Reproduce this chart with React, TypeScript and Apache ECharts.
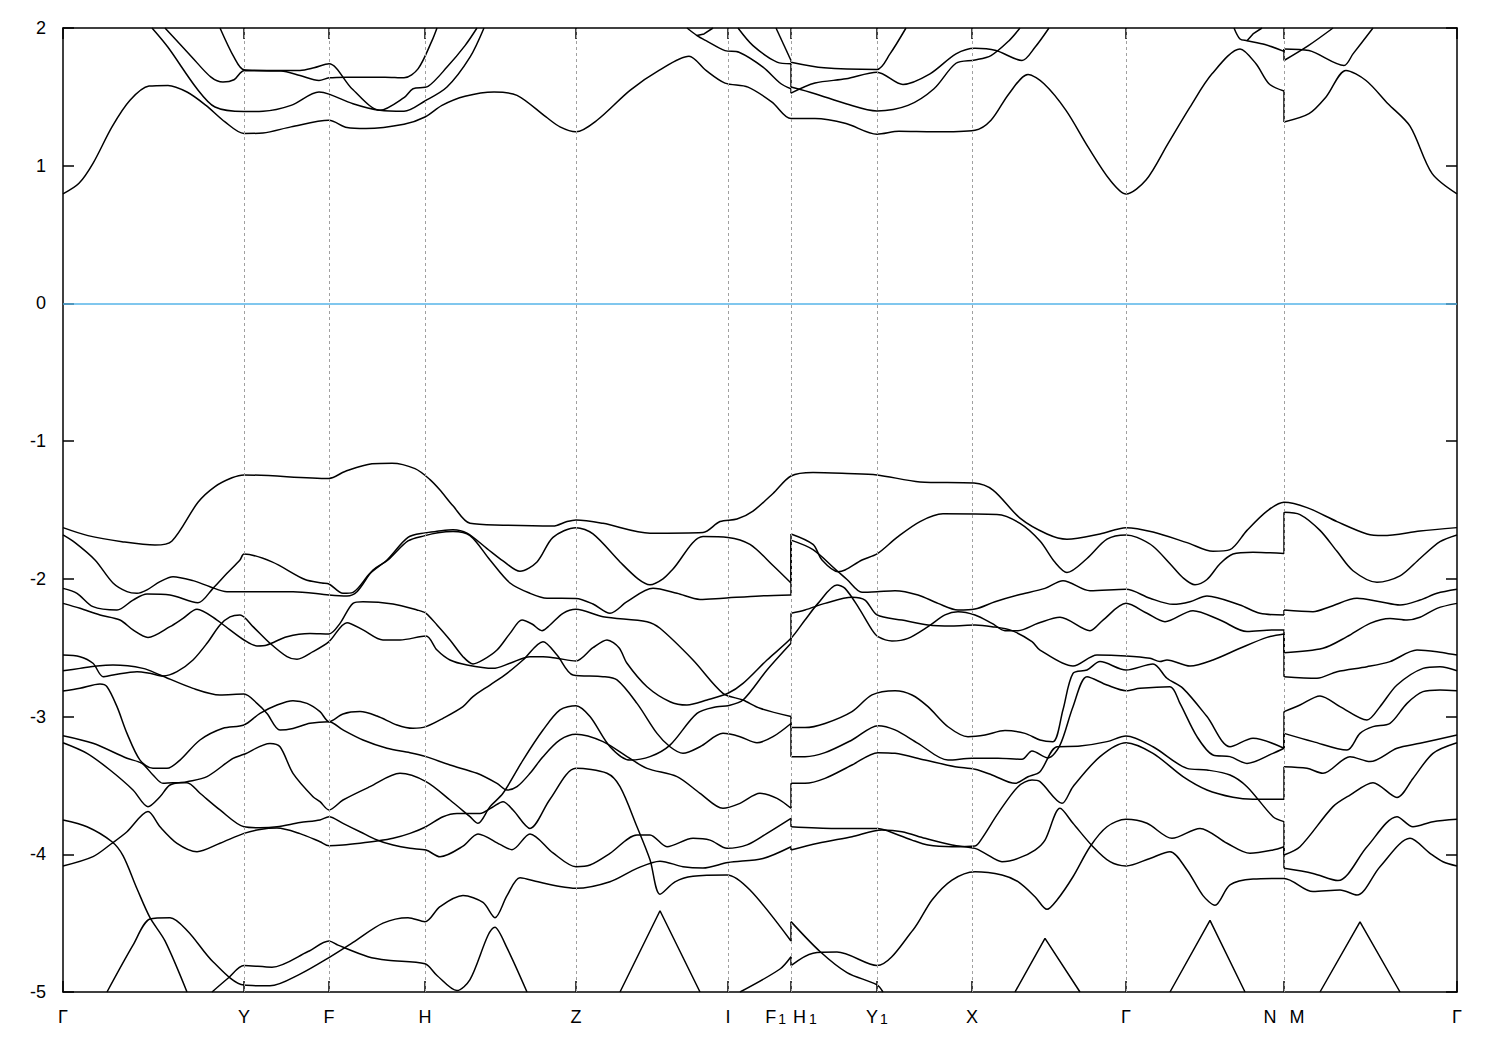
import React, { useEffect, useRef } from "react";
import * as echarts from "echarts";

type P = [number, number];

// k-path positions (arbitrary path-length units) of the high-symmetry points
const kPoints = [0, 181, 266, 362, 513, 665, 728, 814, 909, 1063, 1221, 1394];
const kNames = ["Γ", "Y", "F", "H", "Z", "I", "F₁H₁", "Y₁", "X", "Γ", "N M", "Γ"];
const kGrid = [181, 266, 362, 513, 665, 728, 814, 909, 1063, 1221];

// ---------------- valence bands (eV) ----------------
const b1: P[] = [[0,-1.628],[25,-1.686],[59,-1.73],[92,-1.755],[109,-1.725],[135,-1.444],[152,-1.33],[169,-1.266],[181,-1.245],[266,-1.271],[282,-1.22],[309,-1.164],[329,-1.16],[352,-1.2],[367,-1.279],[377,-1.355],[390,-1.47],[407,-1.597],[440,-1.61],[490,-1.617],[504,-1.584],[513,-1.572],[540,-1.597],[587,-1.668],[640,-1.663],[657,-1.584],[674,-1.566],[690,-1.508],[710,-1.38],[728,-1.253],[750,-1.228],[784,-1.235],[814,-1.245],[857,-1.296],[911,-1.304],[930,-1.355],[957,-1.559],[984,-1.674],[1004,-1.712],[1037,-1.674],[1063,-1.628],[1090,-1.66],[1124,-1.737],[1150,-1.8],[1167,-1.788],[1184,-1.648],[1204,-1.508],[1221,-1.444],[1244,-1.483],[1274,-1.584],[1304,-1.674],[1320,-1.686],[1357,-1.653],[1394,-1.628]];
const b2: P[] = [[0,-1.681],[12,-1.737],[32,-1.863],[50,-2.03],[64,-2.093],[74,-2.105],[84,-2.08],[97,-2.02],[110,-1.984],[130,-2.013],[147,-2.057],[164,-2.093],[181,-2.093],[230,-2.093],[266,-2.117],[284,-2.124],[294,-2.093],[310,-1.936],[325,-1.863],[345,-1.725],[362,-1.686],[375,-1.665],[390,-1.656],[407,-1.686],[427,-1.863],[447,-2.03],[467,-2.105],[484,-2.141],[513,-2.142],[530,-2.183],[547,-2.25],[564,-2.166],[590,-2.069],[614,-2.105],[637,-2.149],[657,-2.142],[697,-2.124],[728,-2.117],[728,-1.674],[750,-1.75],[759,-1.863],[775,-1.948],[782,-1.936],[799,-1.863],[814,-1.819],[834,-1.699],[857,-1.584],[880,-1.528],[934,-1.533],[957,-1.597],[977,-1.725],[992,-1.88],[1004,-1.954],[1024,-1.852],[1044,-1.712],[1063,-1.681],[1074,-1.699],[1090,-1.763],[1107,-1.89],[1120,-1.992],[1132,-2.043],[1144,-2.005],[1157,-1.89],[1170,-1.819],[1190,-1.806],[1221,-1.816],[1221,-1.516],[1237,-1.533],[1257,-1.648],[1274,-1.8],[1290,-1.941],[1314,-2.025],[1337,-1.979],[1357,-1.852],[1377,-1.73],[1394,-1.681]];
const b3: P[] = [[0,-2.069],[14,-2.105],[30,-2.202],[54,-2.226],[70,-2.154],[84,-2.11],[107,-2.117],[135,-2.173],[150,-2.069],[164,-1.96],[177,-1.863],[181,-1.82],[209,-1.877],[242,-2.005],[259,-2.03],[266,-2.037],[280,-2.105],[290,-2.098],[307,-1.96],[324,-1.863],[345,-1.699],[362,-1.666],[374,-1.655],[390,-1.643],[404,-1.668],[424,-1.78],[440,-1.87],[457,-1.945],[474,-1.877],[490,-1.699],[513,-1.628],[530,-1.674],[557,-1.877],[575,-2.0],[587,-2.043],[600,-2.0],[610,-1.928],[640,-1.693],[665,-1.699],[687,-1.75],[710,-1.903],[728,-2.03],[728,-1.719],[750,-1.788],[774,-1.941],[784,-2.005],[799,-2.098],[814,-2.094],[832,-2.086],[855,-2.117],[875,-2.178],[895,-2.226],[912,-2.219],[932,-2.166],[955,-2.117],[982,-2.069],[1000,-2.013],[1027,-2.086],[1063,-2.076],[1087,-2.141],[1110,-2.185],[1127,-2.166],[1144,-2.124],[1177,-2.19],[1197,-2.25],[1221,-2.262],[1221,-2.226],[1250,-2.238],[1267,-2.202],[1294,-2.141],[1317,-2.166],[1337,-2.19],[1357,-2.154],[1374,-2.105],[1394,-2.076]];
const b4: P[] = [[0,-2.178],[17,-2.214],[37,-2.262],[57,-2.299],[70,-2.371],[85,-2.425],[107,-2.347],[120,-2.287],[134,-2.221],[154,-2.299],[167,-2.371],[181,-2.444],[194,-2.487],[204,-2.48],[224,-2.42],[247,-2.396],[266,-2.4],[277,-2.323],[290,-2.178],[300,-2.166],[330,-2.182],[354,-2.226],[363,-2.25],[374,-2.335],[387,-2.444],[400,-2.565],[410,-2.618],[420,-2.589],[434,-2.517],[447,-2.396],[459,-2.299],[469,-2.328],[479,-2.376],[487,-2.335],[500,-2.25],[513,-2.221],[540,-2.275],[584,-2.311],[597,-2.359],[630,-2.589],[660,-2.831],[680,-2.88],[697,-2.94],[728,-3.0],[728,-3.08],[742,-3.08],[762,-3.05],[789,-2.964],[809,-2.843],[832,-2.812],[849,-2.843],[865,-2.928],[885,-3.074],[905,-3.146],[922,-3.134],[942,-3.102],[962,-3.122],[977,-3.17],[990,-3.182],[1000,-2.95],[1010,-2.686],[1024,-2.662],[1037,-2.601],[1063,-2.662],[1090,-2.618],[1104,-2.722],[1120,-2.795],[1144,-3.0],[1167,-3.219],[1190,-3.158],[1221,-3.23],[1221,-3.122],[1250,-3.182],[1284,-3.243],[1297,-3.122],[1310,-3.073],[1327,-3.049],[1344,-2.904],[1360,-2.819],[1377,-2.807],[1394,-2.812]];
const b5: P[] = [[0,-2.553],[17,-2.565],[30,-2.613],[40,-2.71],[50,-2.698],[74,-2.674],[87,-2.686],[100,-2.705],[114,-2.674],[130,-2.589],[144,-2.468],[157,-2.335],[167,-2.276],[177,-2.262],[190,-2.347],[207,-2.468],[224,-2.565],[234,-2.584],[250,-2.529],[266,-2.456],[284,-2.318],[300,-2.371],[320,-2.444],[337,-2.444],[363,-2.415],[374,-2.517],[387,-2.589],[404,-2.625],[430,-2.65],[447,-2.613],[467,-2.565],[480,-2.565],[494,-2.577],[513,-2.596],[530,-2.5],[544,-2.444],[556,-2.5],[564,-2.613],[584,-2.783],[607,-2.892],[624,-2.916],[644,-2.88],[665,-2.831],[680,-2.759],[704,-2.589],[728,-2.432],[742,-2.299],[755,-2.178],[774,-2.045],[782,-2.069],[795,-2.202],[809,-2.371],[815,-2.42],[829,-2.451],[845,-2.432],[865,-2.347],[882,-2.262],[895,-2.238],[912,-2.262],[929,-2.323],[942,-2.376],[955,-2.376],[975,-2.323],[997,-2.279],[1027,-2.376],[1040,-2.299],[1063,-2.178],[1084,-2.25],[1102,-2.311],[1130,-2.231],[1157,-2.299],[1184,-2.383],[1210,-2.371],[1221,-2.371],[1221,-2.536],[1260,-2.504],[1284,-2.42],[1307,-2.323],[1327,-2.287],[1344,-2.299],[1357,-2.279],[1374,-2.214],[1394,-2.178]];
const b6: P[] = [[0,-2.667],[17,-2.65],[34,-2.633],[50,-2.626],[80,-2.65],[97,-2.698],[130,-2.795],[157,-2.843],[181,-2.836],[194,-2.904],[204,-2.977],[217,-3.098],[230,-3.086],[247,-3.049],[266,-3.037],[280,-3.097],[300,-3.17],[324,-3.23],[347,-3.262],[363,-3.291],[387,-3.352],[414,-3.412],[434,-3.485],[444,-3.533],[454,-3.509],[467,-3.412],[480,-3.291],[497,-3.17],[513,-3.129],[540,-3.182],[564,-3.291],[584,-3.376],[614,-3.436],[637,-3.557],[660,-3.666],[677,-3.63],[697,-3.557],[714,-3.594],[728,-3.666],[728,-3.485],[742,-3.485],[762,-3.449],[789,-3.352],[815,-3.262],[832,-3.267],[862,-3.316],[892,-3.364],[912,-3.383],[929,-3.424],[952,-3.485],[965,-3.437],[977,-3.4],[994,-3.219],[1017,-3.214],[1044,-3.182],[1063,-3.141],[1090,-3.219],[1124,-3.376],[1144,-3.388],[1167,-3.424],[1184,-3.509],[1210,-3.727],[1221,-3.763],[1221,-4.005],[1237,-3.945],[1270,-3.654],[1287,-3.57],[1310,-3.48],[1334,-3.587],[1350,-3.449],[1370,-3.267],[1394,-3.19]];
const b7: P[] = [[0,-2.815],[17,-2.795],[37,-2.764],[44,-2.783],[54,-2.928],[64,-3.122],[77,-3.316],[90,-3.376],[104,-3.376],[117,-3.316],[137,-3.17],[160,-3.085],[181,-3.061],[197,-2.977],[214,-2.916],[230,-2.885],[244,-2.904],[257,-2.964],[266,-3.037],[280,-2.981],[297,-2.964],[314,-2.996],[334,-3.061],[350,-3.085],[363,-3.073],[380,-3.013],[400,-2.928],[410,-2.855],[427,-2.771],[444,-2.686],[460,-2.589],[480,-2.456],[494,-2.553],[510,-2.698],[540,-2.71],[554,-2.734],[574,-2.904],[594,-3.122],[607,-3.219],[620,-3.267],[637,-3.219],[660,-3.122],[677,-3.146],[694,-3.19],[710,-3.146],[728,-3.05],[728,-3.291],[742,-3.291],[762,-3.262],[789,-3.17],[815,-3.066],[832,-3.097],[855,-3.194],[885,-3.316],[909,-3.303],[935,-3.303],[959,-3.31],[969,-3.25],[985,-3.3],[997,-3.207],[1010,-2.928],[1024,-2.71],[1044,-2.771],[1063,-2.812],[1077,-2.795],[1107,-2.783],[1117,-2.904],[1134,-3.146],[1150,-3.279],[1167,-3.291],[1184,-3.34],[1210,-3.267],[1221,-3.23],[1221,-2.964],[1237,-2.916],[1257,-2.85],[1277,-2.928],[1304,-3.025],[1317,-2.928],[1334,-2.771],[1360,-2.65],[1377,-2.638],[1394,-2.667]];
const b8: P[] = [[0,-3.139],[30,-3.194],[64,-3.303],[79,-3.34],[90,-3.424],[100,-3.485],[110,-3.48],[124,-3.48],[137,-3.557],[157,-3.678],[181,-3.8],[197,-3.807],[214,-3.8],[237,-3.77],[257,-3.751],[266,-3.727],[280,-3.776],[297,-3.836],[314,-3.896],[330,-3.933],[347,-3.957],[363,-3.969],[377,-4.018],[400,-3.941],[415,-3.852],[437,-3.928],[449,-3.967],[467,-3.852],[490,-3.99],[513,-4.09],[527,-4.078],[547,-3.993],[574,-3.86],[587,-3.86],[604,-3.945],[630,-3.884],[647,-3.897],[664,-3.957],[684,-3.932],[704,-3.848],[728,-3.739],[728,-3.8],[772,-3.812],[815,-3.812],[822,-3.824],[849,-3.897],[865,-3.933],[889,-3.945],[912,-3.94],[919,-3.884],[935,-3.703],[955,-3.509],[969,-3.461],[977,-3.473],[999,-3.63],[1010,-3.509],[1037,-3.291],[1063,-3.19],[1090,-3.267],[1120,-3.436],[1144,-3.533],[1170,-3.586],[1190,-3.6],[1221,-3.6],[1221,-3.364],[1244,-3.376],[1260,-3.412],[1287,-3.291],[1307,-3.327],[1334,-3.23],[1357,-3.194],[1394,-3.134]];
const b9: P[] = [[0,-3.19],[24,-3.267],[47,-3.388],[70,-3.533],[85,-3.654],[97,-3.582],[107,-3.497],[124,-3.473],[144,-3.436],[170,-3.303],[181,-3.274],[207,-3.195],[217,-3.219],[230,-3.412],[250,-3.582],[257,-3.618],[266,-3.678],[280,-3.606],[307,-3.509],[337,-3.412],[363,-3.472],[387,-3.606],[407,-3.727],[415,-3.775],[427,-3.654],[440,-3.557],[460,-3.316],[480,-3.098],[497,-2.952],[513,-2.921],[527,-3.0],[547,-3.219],[567,-3.316],[587,-3.291],[607,-3.207],[634,-2.977],[654,-2.928],[665,-2.921],[680,-2.88],[704,-2.662],[728,-2.468],[728,-2.25],[742,-2.226],[762,-2.178],[789,-2.134],[802,-2.154],[814,-2.262],[839,-2.299],[865,-2.335],[889,-2.342],[912,-2.335],[929,-2.347],[949,-2.376],[969,-2.456],[977,-2.517],[1010,-2.633],[1034,-2.553],[1063,-2.56],[1087,-2.577],[1097,-2.601],[1104,-2.589],[1127,-2.633],[1150,-2.589],[1177,-2.504],[1204,-2.425],[1221,-2.4],[1221,-2.71],[1254,-2.722],[1274,-2.674],[1304,-2.638],[1327,-2.601],[1354,-2.517],[1374,-2.529],[1394,-2.553]];
const b10: P[] = [[0,-4.085],[30,-4.017],[49,-3.92],[64,-3.836],[85,-3.69],[97,-3.8],[114,-3.92],[134,-3.981],[157,-3.92],[181,-3.848],[197,-3.82],[214,-3.81],[237,-3.85],[257,-3.909],[266,-3.938],[280,-3.933],[297,-3.92],[314,-3.904],[330,-3.884],[347,-3.848],[363,-3.8],[380,-3.727],[394,-3.703],[417,-3.703],[429,-3.66],[440,-3.618],[450,-3.678],[467,-3.812],[487,-3.6],[513,-3.376],[544,-3.412],[557,-3.509],[574,-3.8],[587,-4.04],[597,-4.29],[612,-4.2],[630,-4.16],[664,-4.15],[687,-4.26],[728,-4.63],[728,-4.489],[757,-4.706],[784,-4.859],[814,-4.948],[820,-5.0]];
const b11: P[] = [[0,-3.751],[24,-3.8],[49,-3.909],[60,-4.01],[74,-4.25],[87,-4.46],[102,-4.629],[124,-5.0]];
const b12: P[] = [[44,-5.0],[70,-4.66],[87,-4.47],[107,-4.46],[125,-4.56],[150,-4.78],[181,-4.95],[207,-4.955],[237,-4.87],[266,-4.75],[290,-4.64],[320,-4.5],[345,-4.46],[362,-4.49],[377,-4.38],[400,-4.3],[420,-4.35],[432,-4.46],[444,-4.3],[457,-4.17],[475,-4.2],[497,-4.234],[513,-4.247],[547,-4.199],[574,-4.102],[597,-4.05],[620,-4.09],[640,-4.1],[665,-4.06],[700,-4.03],[728,-3.945],[728,-3.969],[755,-3.92],[789,-3.872],[819,-3.824],[839,-3.836],[862,-3.884],[889,-3.933],[912,-3.957],[922,-3.993],[939,-4.054],[955,-4.03],[972,-3.969],[982,-3.897],[997,-3.666],[1010,-3.775],[1030,-3.945],[1047,-4.054],[1063,-4.085],[1087,-4.03],[1107,-3.981],[1124,-4.114],[1140,-4.3],[1152,-4.37],[1167,-4.222],[1190,-4.18],[1221,-4.175],[1250,-4.271],[1277,-4.259],[1294,-4.296],[1317,-4.09],[1347,-3.884],[1367,-3.993],[1380,-4.054],[1394,-4.085]];
const b13: P[] = [[149,-5.0],[165,-4.9],[181,-4.808],[209,-4.82],[245,-4.706],[266,-4.63],[275,-4.66],[305,-4.744],[325,-4.77],[362,-4.795],[374,-4.88],[394,-4.99],[407,-4.91],[432,-4.53],[444,-4.68],[464,-5.0]];
const b14: P[] = [[677,-5.0],[717,-4.833],[728,-4.744],[728,-4.808],[750,-4.718],[774,-4.71],[814,-4.808],[850,-4.55],[869,-4.332],[889,-4.187],[912,-4.126],[939,-4.15],[955,-4.199],[972,-4.308],[984,-4.4],[994,-4.332],[1010,-4.163],[1027,-3.945],[1044,-3.8],[1063,-3.746],[1084,-3.775],[1109,-3.884],[1137,-3.812],[1164,-3.92],[1187,-3.993],[1210,-3.969],[1221,-3.945],[1221,-4.102],[1250,-4.139],[1275,-4.191],[1304,-3.945],[1334,-3.727],[1350,-3.8],[1370,-3.763],[1394,-3.746]];

// narrow peaks rising from below the window
const p1: P[] = [[557,-5.0],[597,-4.41],[637,-5.0]];
const p2: P[] = [[952,-5.0],[982,-4.61],[1017,-5.0]];
const p3: P[] = [[1107,-5.0],[1147,-4.48],[1182,-5.0]];
const p4: P[] = [[1257,-5.0],[1297,-4.49],[1337,-5.0]];

// ---------------- conduction bands (eV) ----------------
const c1: P[] = [[0,0.795],[16,0.872],[30,1.017],[49,1.282],[67,1.475],[86,1.578],[105,1.583],[124,1.535],[143,1.438],[162,1.318],[181,1.234],[200,1.238],[228,1.282],[266,1.33],[284,1.277],[303,1.27],[341,1.301],[362,1.354],[379,1.438],[402,1.504],[431,1.535],[454,1.511],[483,1.354],[497,1.282],[513,1.246],[534,1.33],[567,1.547],[596,1.692],[626,1.795],[643,1.692],[662,1.6],[685,1.571],[709,1.462],[728,1.342],[752,1.342],[783,1.306],[814,1.229],[836,1.25],[871,1.246],[912,1.258],[928,1.33],[946,1.523],[965,1.663],[981,1.595],[1003,1.402],[1025,1.137],[1047,0.896],[1063,0.795],[1083,0.896],[1105,1.161],[1127,1.426],[1149,1.667],[1177,1.848],[1193,1.74],[1206,1.595],[1221,1.542],[1221,1.318],[1246,1.378],[1263,1.499],[1283,1.692],[1303,1.619],[1325,1.45],[1347,1.287],[1369,0.944],[1394,0.795]];
const c2: P[] = [[89,2.0],[105,1.86],[134,1.559],[152,1.426],[181,1.393],[200,1.395],[228,1.438],[256,1.535],[266,1.52],[290,1.45],[317,1.402],[341,1.395],[362,1.47],[384,1.571],[407,1.788],[421,2.0]];
const c3: P[] = [[157,2.0],[171,1.788],[181,1.696],[204,1.692],[237,1.692],[251,1.711],[266,1.74],[289,1.559],[317,1.402],[341,1.494],[350,1.559],[365,1.576],[384,1.716],[402,1.872],[414,2.0]];
const c4: P[] = [[102,2.0],[129,1.788],[148,1.643],[160,1.607],[171,1.624],[181,1.69],[218,1.687],[237,1.655],[256,1.619],[266,1.638],[284,1.643],[322,1.643],[341,1.638],[355,1.703],[369,1.908],[374,2.0]];
const c5: P[] = [[624,2.0],[634,1.945],[643,1.908],[662,1.836],[676,1.824],[700,1.716],[718,1.595],[728,1.559],[728,1.527],[752,1.6],[783,1.631],[814,1.679],[840,1.59],[867,1.667],[893,1.812],[912,1.853],[933,1.836],[959,1.764],[972,1.86],[986,2.0]];
const c6: P[] = [[634,1.945],[641,1.957],[650,2.0]];
const c7: P[] = [[675,2.0],[690,1.872],[714,1.752],[728,1.74],[728,1.571],[752,1.523],[783,1.45],[814,1.398],[845,1.438],[871,1.559],[893,1.744],[912,1.768],[928,1.8],[946,1.908],[957,2.0]];
const c8: P[] = [[713,2.0],[728,1.764],[728,1.752],[761,1.711],[814,1.699],[827,1.812],[843,2.0]];
const c9: P[] = [[1171,2.0],[1177,1.92],[1184,1.908],[1202,1.88],[1221,1.83],[1221,1.848],[1246,1.836],[1281,1.728],[1290,1.812],[1310,2.0]];
const c10: P[] = [[1184,1.908],[1190,1.957],[1199,2.0]];
const c11: P[] = [[1221,1.848],[1221,1.764],[1245,1.87],[1270,2.0]];

const smoothBands: P[][] = [b1,b2,b3,b4,b5,b6,b7,b8,b9,b10,b11,b12,b13,b14,c1,c2,c3,c4,c5,c7,c8,c9,c11];
const straightBands: P[][] = [p1,p2,p3,p4,c6,c10];

// rich-text rendering of the path labels (subscripts drawn lowered)
const richLabel: Record<string, string> = {
  "F₁H₁": "{n|F}{s|1}{h|H}{t|1}",
  "Y₁": "{n|Y}{s|1}",
  "N M": "{l|N}{r|M}",
};

function splitAtJumps(band: P[]) {
  const pieces: P[][] = [];
  const jumps: P[][] = [];
  let cur: P[] = [band[0]];
  for (let i = 1; i < band.length; i++) {
    const q = band[i - 1];
    const p = band[i];
    if (p[0] === q[0]) {
      pieces.push(cur);
      jumps.push([q, p]);
      cur = [p];
    } else {
      cur.push(p);
    }
  }
  pieces.push(cur);
  return { pieces, jumps };
}

export default function App() {
  const ref = useRef<HTMLDivElement>(null);
  useEffect(() => {
    if (!ref.current) return;
    const chart = echarts.init(ref.current, null, { renderer: "svg" });
    const lineStyle = { color: "#000000", width: 1.5 };
    const series: any[] = [];
    smoothBands.forEach((band) => {
      const { pieces, jumps } = splitAtJumps(band);
      pieces.forEach((pc) =>
        series.push({ type: "line", data: pc, symbol: "none", showSymbol: false, smooth: 0.3, lineStyle, silent: true, z: 3 })
      );
      jumps.forEach((j) =>
        series.push({ type: "line", data: j, symbol: "none", showSymbol: false, smooth: false, lineStyle, silent: true, z: 3 })
      );
    });
    straightBands.forEach((band) =>
      series.push({ type: "line", data: band, symbol: "none", showSymbol: false, smooth: false, lineStyle, silent: true, z: 3 })
    );
    series.push({
      type: "line",
      data: [[0, -100]],
      symbol: "none",
      showSymbol: false,
      silent: true,
      z: 1,
      markLine: {
        silent: true,
        symbol: ["none", "none"],
        label: { show: false },
        animation: false,
        data: [
          ...kGrid.map((x) => ({ xAxis: x, lineStyle: { color: "#a0a0a0", type: [3, 3], width: 1 } })),
          { yAxis: 0, lineStyle: { color: "#56b4e9", type: "solid", width: 1.5 } },
        ],
      },
    });

    const font = "Liberation Sans, Arial, sans-serif";
    const axisLine = { show: true, onZero: false, lineStyle: { color: "#000", width: 1.5 } };
    const tickStyle = { color: "#000", width: 1.5 };
    const fmtK = (v: number) => {
      const i = kPoints.findIndex((k) => Math.abs(k - v) < 0.5);
      if (i < 0) return "";
      const name = kNames[i];
      return richLabel[name] || `{n|${name}}`;
    };
    const main = { fontSize: 18, lineHeight: 18, verticalAlign: "top", color: "#000", fontFamily: font };
    const sub = { fontSize: 14, lineHeight: 14, verticalAlign: "bottom", color: "#000", fontFamily: font };

    chart.setOption({
      animation: false,
      backgroundColor: "#ffffff",
      grid: { left: 63, right: 43, top: 28, bottom: 58, containLabel: false },
      xAxis: [
        {
          type: "value", min: 0, max: 1394, position: "bottom",
          axisLine,
          axisTick: { show: true, inside: true, length: 11, customValues: kPoints, lineStyle: tickStyle },
          axisLabel: {
            show: true, customValues: kPoints, formatter: fmtK, color: "#000", fontSize: 18, fontFamily: font,
            margin: 16, hideOverlap: false, showMinLabel: true, showMaxLabel: true,
            rich: {
              n: main,
              h: { ...main, padding: [0, 0, 0, 7] },
              l: { ...main, padding: [0, 7, 0, 0] },
              r: { ...main, padding: [0, 0, 0, 6] },
              s: { ...sub, padding: [8, 0, 0, 2] },
              t: { ...sub, padding: [8, 0, 0, 3] },
            },
          },
          splitLine: { show: false },
        },
        {
          type: "value", min: 0, max: 1394, position: "top",
          axisLine,
          axisTick: { show: true, inside: true, length: 11, customValues: kPoints, lineStyle: tickStyle },
          axisLabel: { show: false },
          splitLine: { show: false },
        },
      ],
      yAxis: [
        {
          type: "value", min: -5, max: 2, interval: 1, position: "left",
          axisLine,
          axisTick: { show: true, inside: true, length: 11, lineStyle: tickStyle },
          axisLabel: { color: "#000", fontSize: 18, fontFamily: font, margin: 17 },
          splitLine: { show: false },
        },
        {
          type: "value", min: -5, max: 2, interval: 1, position: "right",
          axisLine,
          axisTick: { show: true, inside: true, length: 11, lineStyle: tickStyle },
          axisLabel: { show: false },
          splitLine: { show: false },
        },
      ],
      series,
    });
    return () => chart.dispose();
  }, []);
  return (
    <div
      ref={ref}
      style={{ position: "fixed", left: 0, top: 0, width: 1500, height: 1050, background: "#fff" }}
    />
  );
}
